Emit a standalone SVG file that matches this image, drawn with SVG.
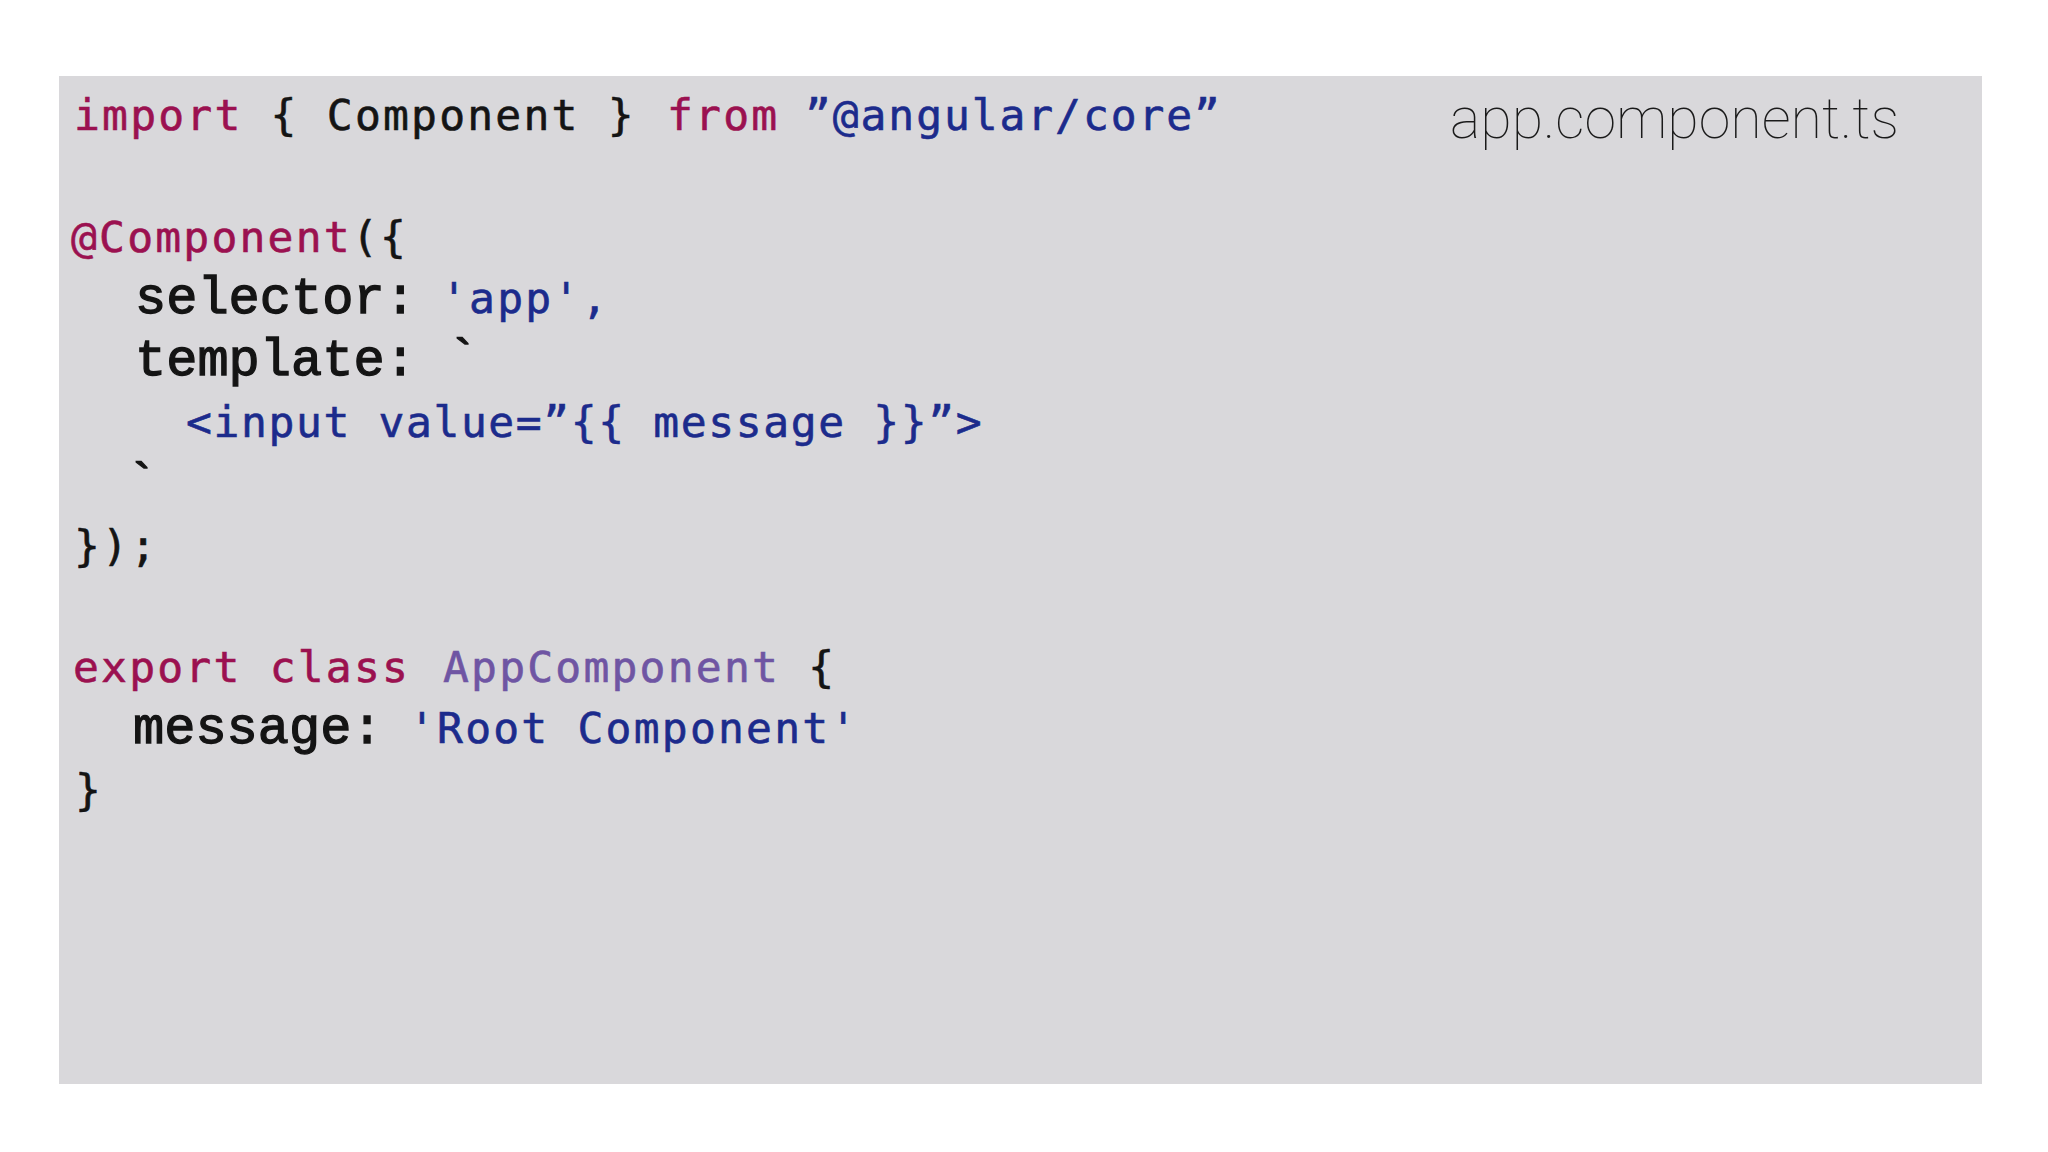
<svg xmlns="http://www.w3.org/2000/svg" width="2048" height="1152" viewBox="0 0 2048 1152">
  <style>
    .code { font-family: "DejaVu Sans Mono", "Liberation Mono", monospace; font-size: 43px; letter-spacing: 2.2px; fill: #141414; stroke-width: 0.6px; }
    .ser { font-family: "Liberation Mono", "Courier New", monospace; font-size: 52px; fill: #141414; stroke: #141414; stroke-width: 1.3px; }
    .kw { fill: #9b1150; stroke: #9b1150; }
    .str { fill: #1c2b8c; stroke: #1c2b8c; }
    .cls { fill: #6f55a3; stroke: #6f55a3; }
    .pl { fill: #141414; stroke: #141414; }
    .title { font-family: Roboto, Inter, Lato, "Liberation Sans", sans-serif; font-size: 58px; font-weight: 100; fill: #1a1a1a; }
  </style>
  <rect x="0" y="0" width="2048" height="1152" fill="#ffffff"/>
  <g id="panel">
    <rect x="59" y="76" width="1923" height="1008" fill="#d9d8db"/>
  </g>
  <g id="filename">
    <text class="title" x="1450" y="138" textLength="449" lengthAdjust="spacingAndGlyphs">app.component.ts</text>
  </g>
  <g id="code">
    <text class="code pl" x="74" y="130"><tspan class="kw">import</tspan> { Component } <tspan class="kw" x="667">from</tspan> <tspan class="str" x="805" style="letter-spacing:1.9px">”@angular/core”</tspan></text>
    <text class="code pl" x="71" y="252"><tspan class="kw">@Component</tspan>({</text>
    <text class="ser" x="135" y="313">selector:</text>
    <text class="code str" x="441" y="313">'app',</text>
    <text class="ser" x="135" y="375">template: `</text>
    <text class="code str" x="186" y="437" style="letter-spacing:1.6px">&lt;input value=”{{ message }}”&gt;</text>
    <text class="ser" x="126" y="499">`</text>
    <text class="code pl" x="74" y="561">});</text>
    <text class="code pl" x="73" y="682"><tspan class="kw">export</tspan> <tspan class="kw">class</tspan> <tspan class="cls" x="443">AppComponent</tspan> {</text>
    <text class="ser" x="133" y="743">message:</text>
    <text class="code str" x="409" y="743">'Root Component'</text>
    <text class="code pl" x="75" y="805">}</text>
  </g>
</svg>
